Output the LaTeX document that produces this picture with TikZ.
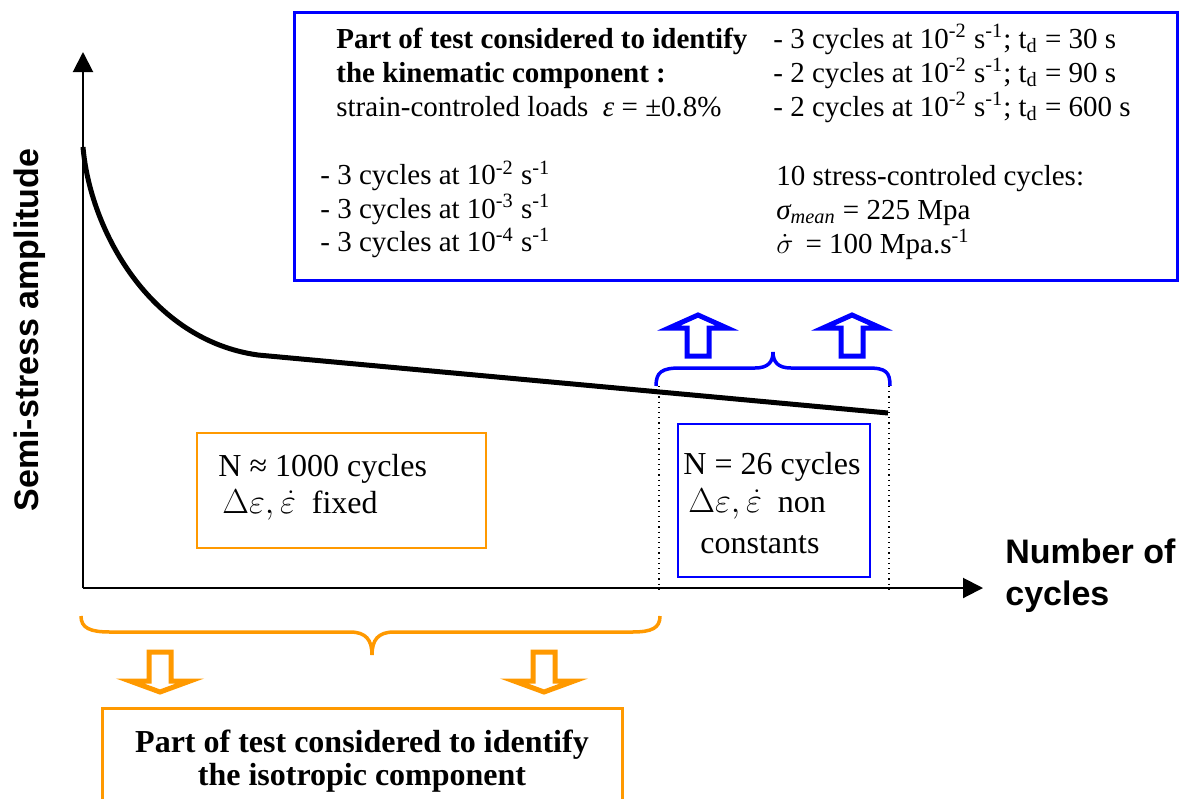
\documentclass[tikz,border=0pt]{standalone}
\usepackage{fontspec}
\setmainfont{Liberation Serif}
\setsansfont{Liberation Sans}
\usetikzlibrary{arrows.meta}
\definecolor{kinblue}{RGB}{0,0,255}
\definecolor{isoorange}{RGB}{255,153,0}

\begin{document}
\begin{tikzpicture}[x=0.5pt, y=-0.5pt,
    txt/.style={anchor=base west, inner sep=0pt, font=\fontsize{14.5}{16.5}\selectfont},
    boxtxt/.style={anchor=base west, inner sep=0pt, font=\fontsize{16}{18}\selectfont},
    axislabel/.style={inner sep=0pt, font=\sffamily\bfseries\fontsize{17}{20}\selectfont},
    fatarrow/.style={line width=2.5pt, fill=white, line join=miter}]
    \useasboundingbox (0,0) rectangle (1187,798);
    \clip (0,0) rectangle (1187,798);

    % Axes
    \coordinate (O) at (83,588);
    \coordinate (ytop) at (83,52);
    \coordinate (xend) at (983,588);
    \draw[line width=1pt, -{Triangle[length=10pt, width=10pt]}] (O) -- (ytop);
    \draw[line width=1pt, -{Triangle[length=10pt, width=10pt]}] (O) -- (xend);
    \node[axislabel, rotate=90] (ylab) at (30,330) {Semi-stress amplitude};
    \node[axislabel, anchor=base west] (xlab1) at (1005,563) {Number of};
    \node[axislabel, anchor=base west] (xlab2) at (1005,605) {cycles};

    % Amplitude curve
    \draw[line width=2.5pt] (83,147) .. controls (90,230) and (150,340) .. (258,355) -- (888,413);

    % Window of the last cycles
    \foreach \x in {659,889} {
        \draw[dotted, line width=0.6pt] (\x,386) -- (\x,592);
    }

    % Kinematic part (blue)
    \draw[kinblue, line width=1.5pt] (294,12) rectangle (1177,280);
    \node[txt, font=\fontsize{14.5}{16.5}\selectfont\bfseries] (kinhead1) at (336,48) {Part of test considered to identify};
    \node[txt, font=\fontsize{14.5}{16.5}\selectfont\bfseries] (kinhead2) at (336,82) {the kinematic component :};
    \node[txt] (kinload) at (336,116) {strain-controled loads \ {\itshape ε} = ±0.8\%};
    \foreach \e [count=\i] in {2,3,4} {
        \node[txt] (rate\i) at (320,151+\i*33.5) {- 3 cycles at 10\textsuperscript{-\e} s\textsuperscript{-1}};
    }
    \node[txt] (hold1) at (773,48) {- 3 cycles at 10\textsuperscript{-2} s\textsuperscript{-1}; t\textsubscript{d} = 30 s};
    \node[txt] (hold2) at (773,82) {- 2 cycles at 10\textsuperscript{-2} s\textsuperscript{-1}; t\textsubscript{d} = 90 s};
    \node[txt] (hold3) at (773,116) {- 2 cycles at 10\textsuperscript{-2} s\textsuperscript{-1}; t\textsubscript{d} = 600 s};
    \node[txt] (stress1) at (776,185) {10 stress-controled cycles:};
    \node[txt] (stress2) at (776,219) {{\itshape σ\textsubscript{mean}} = 225 Mpa};
    \node[txt] (stress3) at (776,253) {\smash{$\dot{\sigma}$} \,= 100 Mpa.s\textsuperscript{-1}};

    \draw[kinblue, line width=1.25pt] (678,424) rectangle (870,577);
    \node[boxtxt] (nkin1) at (683,474) {N = 26 cycles};
    \node[boxtxt] (nkin2) at (688,512) {\smash{$\Delta\varepsilon,\dot{\varepsilon}$} \ non};
    \node[boxtxt] (nkin3) at (700,553) {constants};

    % Blue brace and arrows up
    \draw[kinblue, line width=1.75pt] (656,386) .. controls (656,372) and (662,368) .. (680,368) -- (755,368)
        .. controls (768,368) and (773,362) .. (773,352) .. controls (773,362) and (778,368) .. (791,368)
        -- (868,368) .. controls (886,368) and (890,372) .. (890,386);
    \foreach \x in {698,852} {
        \draw[fatarrow, draw=kinblue] (\x,315) -- (\x+29,328) -- (\x+11,328) -- (\x+11,356)
            -- (\x-11,356) -- (\x-11,328) -- (\x-29,328) -- cycle;
    }

    % Isotropic part (orange)
    \draw[isoorange, line width=1.25pt] (197,433) rectangle (486,548);
    \node[boxtxt] (niso1) at (218,476) {N ≈ 1000 cycles};
    \node[boxtxt] (niso2) at (222,513) {\smash{$\Delta\varepsilon,\dot{\varepsilon}$} \ fixed};

    % Orange brace and arrows down
    \draw[isoorange, line width=1.75pt] (81,616) .. controls (81,628) and (90,632) .. (110,632) -- (350,632)
        .. controls (366,632) and (372,640) .. (372,655) .. controls (372,640) and (378,632) .. (394,632)
        -- (632,632) .. controls (652,632) and (660,628) .. (660,616);
    \foreach \x in {160,544} {
        \draw[fatarrow, draw=isoorange] (\x,692) -- (\x+30,681) -- (\x+11,681) -- (\x+11,652)
            -- (\x-11,652) -- (\x-11,681) -- (\x-30,681) -- cycle;
    }

    \draw[isoorange, line width=1.5pt] (102,708) rectangle (622,830);
    \node[boxtxt, anchor=base, font=\fontsize{16}{18}\selectfont\bfseries] (isohead1) at (362,752) {Part of test considered to identify};
    \node[boxtxt, anchor=base, font=\fontsize{16}{18}\selectfont\bfseries] (isohead2) at (362,785) {the isotropic component};
\end{tikzpicture}
\end{document}
